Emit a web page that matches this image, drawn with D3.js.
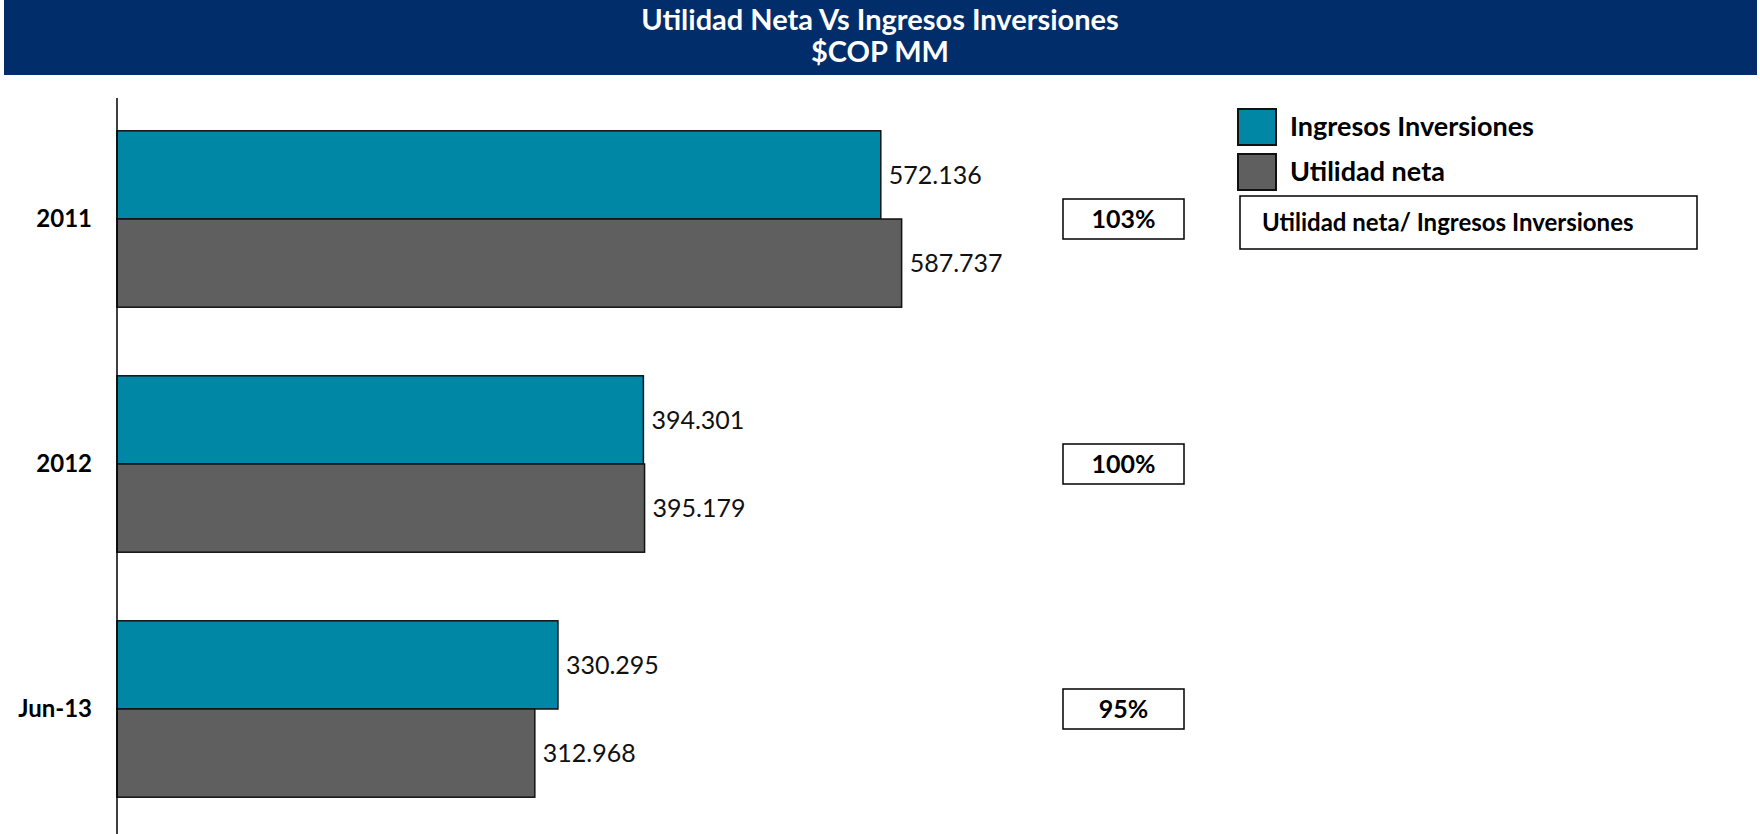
<!DOCTYPE html>
<html>
<head>
<meta charset="utf-8">
<script src="https://cdn.jsdelivr.net/npm/d3@7"></script>
<style>
  body { margin: 0; background: #fff; }
  text { font-family: Lato, "Open Sans", sans-serif; }
</style>
</head>
<body>
<div id="chart"></div>
<script>
// data
const categories = ["2011", "2012", "Jun-13"];
const ingresos = [572.136, 394.301, 330.295];
const utilidad = [587.737, 395.179, 312.968];
const seriesNames = ["Ingresos Inversiones", "Utilidad neta"];
const titleLines = ["Utilidad Neta Vs Ingresos Inversiones", "$COP MM"];
const ratioLabel = "Utilidad neta/ Ingresos Inversiones";

const W = 1760, H = 834;
const colors = ["#0087a6", "#5f5f5f"];
const fmt = v => v.toFixed(3);

const svg = d3.select("#chart").append("svg")
  .attr("width", W)
  .attr("height", H);

// title banner
svg.append("rect")
  .attr("x", 4).attr("y", 0)
  .attr("width", 1753).attr("height", 75)
  .attr("fill", "#012d6a");

svg.selectAll(".title")
  .data(titleLines)
  .enter()
  .append("text")
    .attr("x", 880)
    .attr("y", (d, i) => 30 + i * 32)
    .attr("text-anchor", "middle")
    .attr("fill", "#fff")
    .attr("font-size", 29)
    .attr("font-weight", "bold")
    .text(d => d);

// scales
const x = d3.scaleLinear()
  .domain([0, 700])
  .range([117, 117 + 934.5]);

const y = d3.scaleBand()
  .domain(categories)
  .range([96.5, 831.5])
  .paddingInner(0.28)
  .paddingOuter(0.14);

const sub = d3.scaleBand()
  .domain([0, 1])
  .range([0, y.bandwidth()]);

const data = categories.map((c, i) => ({ cat: c, vals: [ingresos[i], utilidad[i]] }));

// bars
const groups = svg.selectAll(".grp")
  .data(data)
  .enter()
  .append("g")
    .attr("transform", d => "translate(0," + y(d.cat) + ")");

groups.selectAll("rect")
  .data(d => d.vals)
  .enter()
  .append("rect")
    .attr("x", x(0))
    .attr("y", (d, i) => sub(i))
    .attr("width", d => x(d) - x(0))
    .attr("height", sub.bandwidth())
    .attr("fill", (d, i) => colors[i])
    .attr("stroke", "#111")
    .attr("stroke-width", 1.5);

groups.selectAll(".val")
  .data(d => d.vals)
  .enter()
  .append("text")
    .attr("x", d => x(d) + 8)
    .attr("y", (d, i) => sub(i) + sub.bandwidth() / 2)
    .attr("dy", "0.35em")
    .attr("font-size", 25)
    .attr("fill", "#111")
    .text(d => fmt(d));

// vertical axis with category labels
const yAxis = svg.append("g")
  .attr("transform", "translate(" + x(0) + ",0)")
  .call(d3.axisLeft(y).tickSize(0).tickPadding(25));
yAxis.select(".domain")
  .attr("d", "M0,98V834")
  .attr("stroke", "#000")
  .attr("stroke-width", 1.5);
yAxis.selectAll(".tick text")
  .attr("font-family", "Lato, sans-serif")
  .attr("font-size", 24)
  .attr("font-weight", "bold")
  .attr("fill", "#000");

// ratio boxes
const ratio = groups.append("g")
  .attr("transform", "translate(1063," + (y.bandwidth() / 2 - 20) + ")");
ratio.append("rect")
  .attr("width", 121).attr("height", 40)
  .attr("fill", "#fff")
  .attr("stroke", "#000")
  .attr("stroke-width", 1.5);
ratio.append("text")
  .attr("x", 60.5).attr("y", 20)
  .attr("dy", "0.35em")
  .attr("text-anchor", "middle")
  .attr("font-size", 25)
  .attr("font-weight", "bold")
  .text(d => Math.round(d.vals[1] / d.vals[0] * 100) + "%");

// legend
const legend = svg.append("g").attr("transform", "translate(1238,109)");
const item = legend.selectAll(".item")
  .data(seriesNames)
  .enter()
  .append("g")
    .attr("transform", (d, i) => "translate(0," + i * 45 + ")");
item.append("rect")
  .attr("width", 38).attr("height", 36)
  .attr("fill", (d, i) => colors[i])
  .attr("stroke", "#111")
  .attr("stroke-width", 2);
item.append("text")
  .attr("x", 52).attr("y", 18)
  .attr("dy", "0.35em")
  .attr("font-size", 27)
  .attr("font-weight", "bold")
  .text(d => d);

const rl = svg.append("g").attr("transform", "translate(1240,196)");
rl.append("rect")
  .attr("width", 457).attr("height", 53)
  .attr("fill", "#fff")
  .attr("stroke", "#000")
  .attr("stroke-width", 1.5);
rl.append("text")
  .attr("x", 22).attr("y", 27)
  .attr("dy", "0.35em")
  .attr("font-size", 24)
  .attr("font-weight", "bold")
  .text(ratioLabel);
</script>
</body>
</html>
